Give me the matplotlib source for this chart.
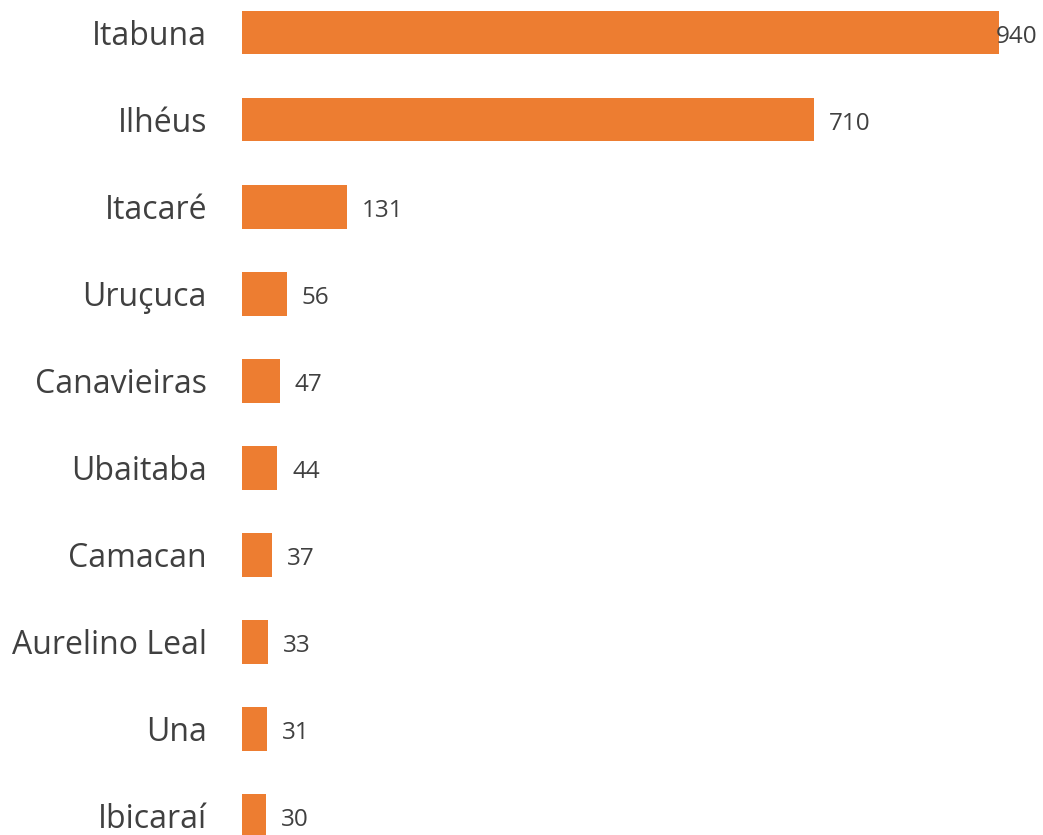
import matplotlib
matplotlib.use("Agg")
import matplotlib.pyplot as plt

categories = ["Itabuna", "Ilhéus", "Itacaré", "Uruçuca", "Canavieiras",
              "Ubaitaba", "Camacan", "Aurelino Leal", "Una", "Ibicaraí"]
values = [940, 710, 131, 56, 47, 44, 37, 33, 31, 30]

BAR_COLOR = "#ED7D31"
TEXT_COLOR = "#404040"

W, H, DPI = 1043, 835, 100
fig = plt.figure(figsize=(W / DPI, H / DPI), dpi=DPI)
fig.patch.set_facecolor("white")

left_px = 241.7
scale = 0.8057          # px per unit
first_c, step = 32.7, 87.03
ax = fig.add_axes([left_px / W, 0, 1 - left_px / W, 1])
xmax = (W - left_px) / scale
ax.set_xlim(0, xmax)
ax.set_ylim((H - first_c) / step, -first_c / step)

y = list(range(len(categories)))
ax.barh(y, values, height=0.5, color=BAR_COLOR, edgecolor="none")

ax.set_yticks(y)
ax.set_yticklabels(categories, fontfamily="Open Sans", fontsize=23,
                   color=TEXT_COLOR)
ax.tick_params(axis="y", length=0, pad=25)
ax.set_xticks([])
for s in ax.spines.values():
    s.set_visible(False)

fig.canvas.draw()
renderer = fig.canvas.get_renderer()
for yi, v in zip(y, values):
    t = ax.annotate(str(v), xy=(v, yi), xytext=(10.8, -3),
                    textcoords="offset points", ha="left", va="center",
                    fontfamily="Open Sans", fontsize=17.5, color=TEXT_COLOR)
    bb = t.get_window_extent(renderer)
    if bb.x1 > W - 4:
        t.remove()
        ax.annotate(str(v), xy=(xmax, yi), xytext=(-4, -3),
                    textcoords="offset points", ha="right", va="center",
                    fontfamily="Open Sans", fontsize=17.5, color=TEXT_COLOR,
                    annotation_clip=False)

fig.savefig("out.png", dpi=DPI, facecolor="white")
